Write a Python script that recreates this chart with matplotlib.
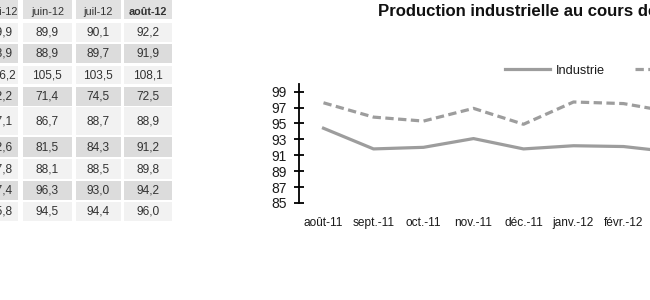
import matplotlib
matplotlib.use("Agg")
import matplotlib.pyplot as plt
from matplotlib.patches import Rectangle

plt.rcParams['font.family'] = ['Liberation Sans', 'DejaVu Sans']
plt.rcParams['lines.scale_dashes'] = False

# ---- chart data ----
months = ['août-11', 'sept.-11', 'oct.-11', 'nov.-11', 'déc.-11',
          'janv.-12', 'févr.-12', 'mars-12']
industrie = [94.4, 91.8, 92.0, 93.1, 91.8, 92.2, 92.1, 91.4]
manufacturiere = [97.6, 95.8, 95.3, 96.9, 94.9, 97.7, 97.5, 96.4]
yticks = [85, 87, 89, 91, 93, 95, 97, 99]

# ---- table data ----
table_headers = ['mai-12', 'juin-12', 'juil-12', 'août-12']
table_rows = [
    ['89,9', '89,9', '90,1', '92,2'],
    ['88,9', '88,9', '89,7', '91,9'],
    ['106,2', '105,5', '103,5', '108,1'],
    ['72,2', '71,4', '74,5', '72,5'],
    ['87,1', '86,7', '88,7', '88,9'],
    ['82,6', '81,5', '84,3', '91,2'],
    ['87,8', '88,1', '88,5', '89,8'],
    ['97,4', '96,3', '93,0', '94,2'],
    ['95,8', '94,5', '94,4', '96,0'],
]

W, H = 650, 300
fig = plt.figure(figsize=(6.5, 3.0), dpi=100)
fig.patch.set_facecolor('white')

# ---- table (pixel layout) ----
axt = fig.add_axes([0, 0, 1, 1])
axt.set_xlim(0, W)
axt.set_ylim(H, 0)
axt.axis('off')
col_edges = [(-26, 18.3), (22.7, 72), (76, 120.5), (124, 172)]
row_edges = [(22.7, 41.7), (44, 63), (65.7, 84.5), (86.5, 105.5), (107, 135),
             (137, 157), (159, 179), (181, 199.5), (201.5, 221)]
header_edge = (-10, 19.3)
header_bg = '#e1e1e1'
light_bg = '#f2f2f2'
dark_bg = '#dcdcdc'
txt_col = '#333333'

for ci, (x0, x1) in enumerate(col_edges):
    axt.add_patch(Rectangle((x0, header_edge[0]), x1 - x0,
                            header_edge[1] - header_edge[0],
                            facecolor=header_bg, edgecolor='none'))
    cx = (x0 + x1) / 2 if ci > 0 else 1.0
    axt.text(cx, 12.3, table_headers[ci], ha='center', va='center',
             fontsize=7.8, color=txt_col,
             fontweight='bold' if ci == 3 else 'normal')
    for ri, (y0, y1) in enumerate(row_edges):
        bg = light_bg if ri % 2 == 0 else dark_bg
        axt.add_patch(Rectangle((x0, y0), x1 - x0, y1 - y0,
                                facecolor=bg, edgecolor='none'))
        axt.text(cx, (y0 + y1) / 2 + 0.5, table_rows[ri][ci], ha='center',
                 va='center', fontsize=8.6, color=txt_col)

# ---- chart ----
ax_left = 298.5 / W
ax_bottom = 1 - 203 / H
ax_height = (203 - 83.7) / H
ax_width = 400 / W
ax = fig.add_axes([ax_left, ax_bottom, ax_width, ax_height])
ax.patch.set_alpha(0)
x = list(range(len(months)))
line_col = '#9d9d9d'
ax.plot(x, industrie, color=line_col, lw=2.3, label='Industrie',
        solid_joinstyle='round')
ax.plot(x, manufacturiere, color=line_col, lw=2.3, dashes=(6, 3.2),
        label='Industrie manufacturière')
ax.set_xlim(-0.5, len(months) - 0.5)
ax.set_ylim(85, 100)
ax.set_yticks(yticks)
ax.set_xticks(x)
ax.set_xticklabels(months)
for s in ['top', 'right', 'bottom']:
    ax.spines[s].set_visible(False)
ax.spines['left'].set_linewidth(1.3)
ax.spines['left'].set_color('black')
ax.tick_params(axis='y', direction='inout', length=6.5, width=1.3,
               labelsize=10, pad=5.4, colors='black', labelcolor='#1a1a1a')
ax.tick_params(axis='x', length=0, labelsize=8.6, pad=10,
               labelcolor='#1a1a1a')

leg = ax.legend(loc='center left', ncol=2, frameon=False,
                bbox_to_anchor=(505 / W, 1 - 70.5 / H),
                bbox_transform=fig.transFigure, fontsize=9.2,
                handlelength=3.5, handletextpad=0.5, columnspacing=2.3,
                borderpad=0, borderaxespad=0)
for t in leg.get_texts():
    t.set_color('#1a1a1a')

fig.text(378 / W, 1 - 11.5 / H,
         'Production industrielle au cours des 12 derniers mois',
         ha='left', va='center', fontsize=12.1, fontweight='bold',
         color='#111111')

fig.savefig('out.png', dpi=100)
